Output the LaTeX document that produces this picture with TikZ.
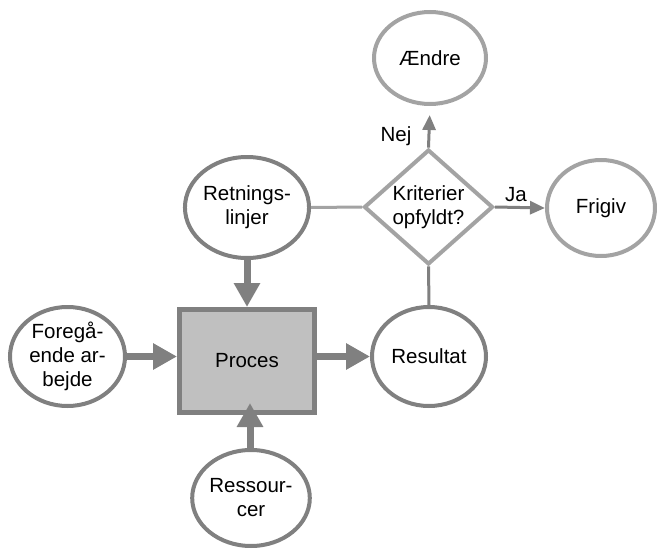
\documentclass[tikz,border=0pt]{standalone}
\usepackage{fontspec}
\setmainfont{Liberation Sans}
\usetikzlibrary{shapes.geometric,arrows.meta}
\definecolor{dgray}{HTML}{808080}
\definecolor{lgray}{HTML}{A3A3A3}
\definecolor{pfill}{HTML}{C0C0C0}
\begin{document}
\begin{tikzpicture}[x=1pt,y=-1pt,
  every node/.style={font=\fontsize{20.5}{24}\selectfont, align=center, inner sep=0pt},
  darkell/.style={ellipse, draw=dgray, line width=4pt, fill=white},
  lightell/.style={ellipse, draw=lgray, line width=4pt, fill=white},
  thinline/.style={line width=3pt},
  thinarrow/.style={line width=3pt, -{Triangle[length=15pt,width=13pt]}},
  thickarrow/.style={draw=dgray, line width=7pt, -{Triangle[length=24pt,width=25pt]}}
]
\useasboundingbox (0,0) rectangle (657,549);

\node[lightell, minimum width=112pt, minimum height=92pt] (aendre) at (430,58) {Ændre};
\node[lightell, minimum width=108pt, minimum height=96pt] (frigiv) at (601,208) {Frigiv};
\node[diamond, draw=lgray, line width=4pt, fill=white, minimum width=129pt, minimum height=96pt] (dia) at (428.5,207) {Kriterier\\opfyldt?};
\node[darkell, minimum width=116pt, minimum height=101pt] (ret) at (247,207.5) {Retnings-\\linjer};
\node[darkell, minimum width=115pt, minimum height=99pt] (foreg) at (67.5,356.5) {Foregå-\\ende ar-\\bejde};
\node[darkell, minimum width=114pt, minimum height=99pt] (res) at (429,356.5) {Resultat};
\node[darkell, minimum width=114pt, minimum height=96pt] (ress) at (251,498) {Ressour-\\cer};
\node[rectangle, draw=dgray, fill=pfill, line width=5pt, minimum width=135pt, minimum height=103pt] (proc) at (247,361) {Proces};

% thin connectors
\draw[thinline, draw=lgray] (ret.east) -- (dia.west);
\draw[thinline, draw=dgray] (res.north) -- (dia.south);
\draw[thinarrow, draw=dgray, fill=dgray, shorten >=9pt] (dia.north) -- (aendre.south);
\node[anchor=base] (nej) at (396,141.7) {Nej};
\draw[thinarrow, draw=dgray, fill=dgray] (dia.east) -- (frigiv.west);
\node[anchor=base] (ja) at (516,201.7) {Ja};

% thick arrows
\draw[thickarrow] (ret.south) -- (proc.north);
\coordinate (ressTip) at (250,403);
\draw[thickarrow] (ress.north -| ressTip) -- (ressTip);
\draw[thickarrow] (foreg.east) -- (foreg.east -| proc.west);
\draw[thickarrow] (proc.east |- res.west) -- (res.west);
\end{tikzpicture}
\end{document}
